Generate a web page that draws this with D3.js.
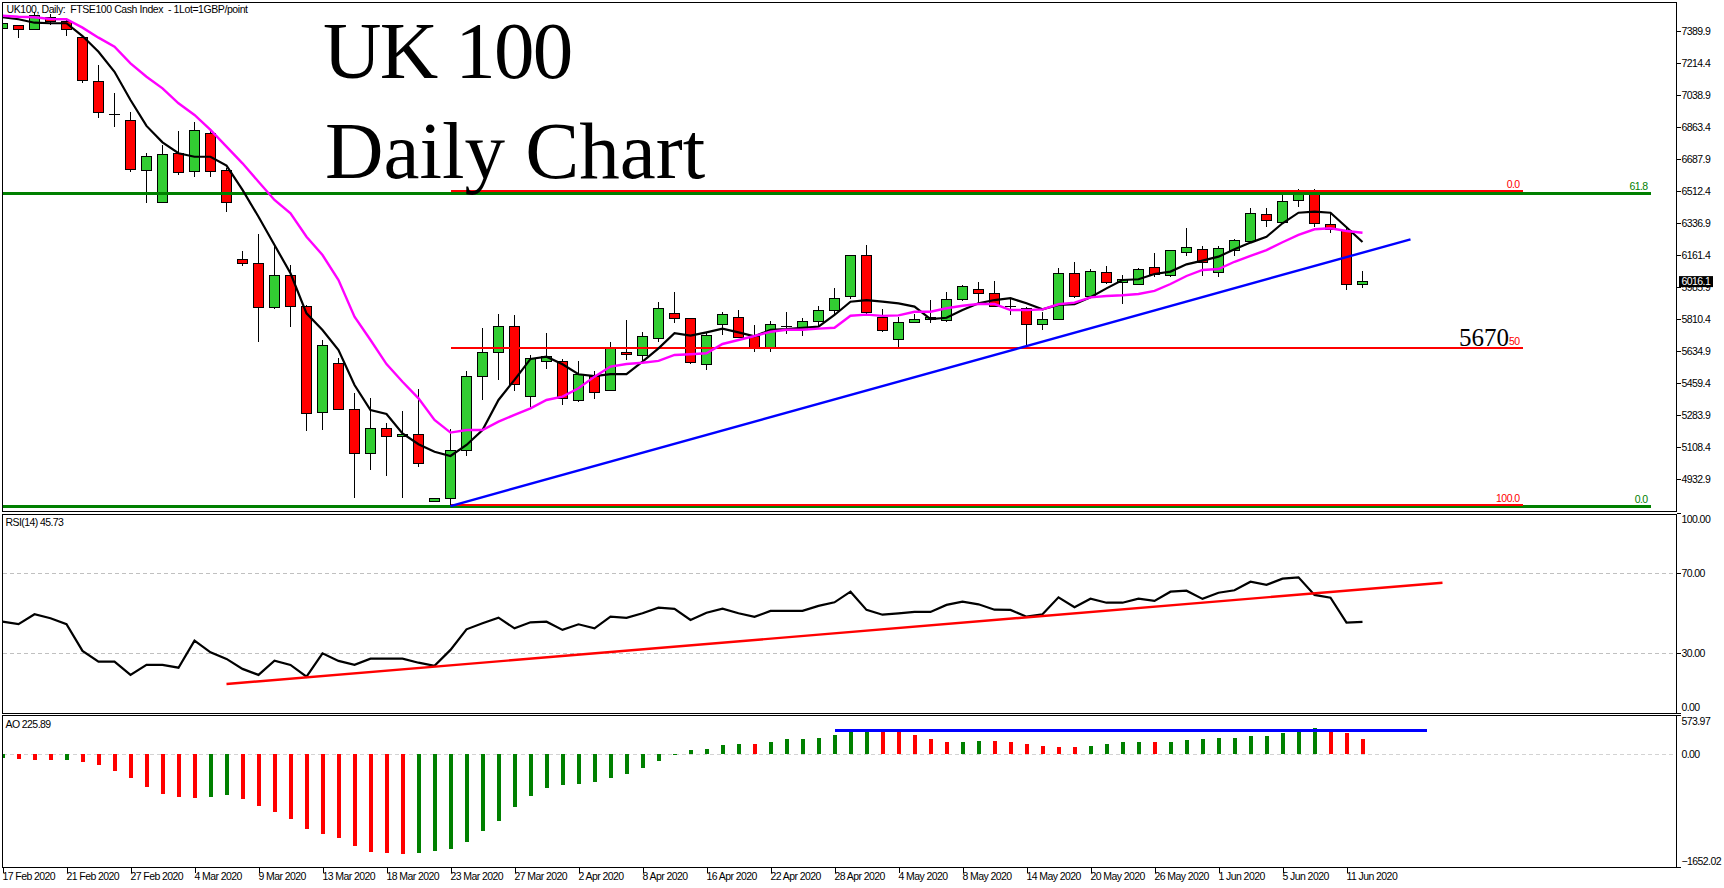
<!DOCTYPE html>
<html><head><meta charset="utf-8">
<script src="https://cdnjs.cloudflare.com/ajax/libs/d3/7.8.5/d3.min.js"></script>
<style>
html,body{margin:0;padding:0;background:#fff;overflow:hidden}
svg{display:block}
text{font-family:"Liberation Sans",Arial,sans-serif;font-size:10.5px;letter-spacing:-0.58px;fill:#000;white-space:pre}
.serif{font-family:"Liberation Serif",serif;letter-spacing:0}
.axis path{display:none}
.axis line{stroke:#000;stroke-width:1;shape-rendering:crispEdges}
</style></head><body>
<div id="chart"></div>
<script>
const open_=[7404,7419,7401,7463,7446,7357,7116,6934,6900,6628,
6452,6721,6622,6830,6628,6136,6118,5874,6052,5882,
5298,5569,5317,5076,5213,5169,5180,4810,4829,5092,
5496,5630,5772,5386,5580,5580,5366,5499,5421,5630,
5613,5706,5843,5816,5564,5783,5821,5715,5651,5771,
5756,5800,5860,5934,6161,5821,5701,5792,5807,5805,
5918,5975,5953,5881,5871,5783,5810,6063,5933,6068,
6013,6002,6096,6050,6178,6194,6068,6190,6236,6386,
6340,6461,6509,6331,6300,6002];
const close_=[7430,7401,7479,7443,7401,7119,6946,6931,6633,6704,
6715,6617,6847,6622,6452,6115,5874,6052,5880,5293,
5668,5315,5076,5213,5169,5180,5021,4829,5092,5496,
5630,5772,5454,5597,5605,5377,5510,5410,5651,5619,
5717,5871,5816,5575,5723,5838,5708,5653,5783,5769,
5800,5860,5926,6161,5847,5748,5793,5810,5818,5920,
5991,5951,5880,5879,5783,5810,6063,5934,6072,6013,
6026,6085,6057,6189,6205,6123,6200,6244,6392,6351,
6458,6503,6337,6304,6000,6016];
const high_=[7430,7419,7496,7485,7463,7359,7205,7050,6946,6722,
6766,6843,6892,6849,6640,6185,6278,6218,6108,5889,
5697,5597,5405,5377,5243,5308,5427,4829,5207,5527,
5763,5840,5834,5615,5735,5591,5582,5527,5686,5807,
5739,5904,5958,5816,5735,5849,5861,5779,5800,5849,
5816,5883,5980,6161,6218,5867,5825,5840,5916,5960,
5999,6013,6020,5926,5876,5849,6090,6123,6086,6103,
6052,6090,6172,6189,6311,6212,6212,6249,6421,6421,
6492,6525,6525,6393,6318,6075];
const low_=[7404,7353,7401,7424,7366,7108,6913,6867,6620,6447,
6447,6603,6593,6593,6401,6104,5688,5869,5770,5200,
5203,5315,4832,4984,4953,4832,5002,4810,4792,5062,
5368,5478,5419,5331,5538,5341,5359,5373,5421,5587,
5578,5688,5792,5567,5532,5726,5708,5633,5633,5731,
5719,5767,5834,5922,5838,5739,5657,5789,5790,5797,
5912,5901,5876,5834,5670,5752,5810,5927,5933,6006,
5894,5997,6044,6044,6158,6048,6042,6159,6236,6318,
6337,6428,6318,6285,5971,5984];
const maFast=[7467,7456,7437,7434,7434,7364,7278,7168,7013,6871,
6781,6721,6702,6702,6653,6520,6373,6218,6063,5843,
5752,5642,5450,5313,5291,5185,5125,5084,5061,5121,
5203,5368,5478,5593,5605,5564,5509,5499,5510,5510,
5578,5651,5734,5721,5739,5759,5739,5717,5752,5756,
5764,5770,5834,5907,5916,5907,5898,5880,5812,5819,
5861,5898,5916,5926,5898,5865,5889,5893,5931,5980,
6026,6030,6059,6072,6112,6132,6154,6194,6231,6263,
6337,6395,6401,6395,6315,6234];
const maSlow=[7475,7470,7467,7457,7456,7410,7355,7305,7214,7141,
7077,6995,6931,6849,6757,6666,6565,6465,6392,6263,
6163,6026,5825,5697,5565,5468,5377,5258,5189,5203,
5203,5249,5286,5322,5368,5386,5432,5496,5551,5565,
5572,5582,5615,5619,5624,5675,5697,5719,5742,5753,
5753,5759,5764,5830,5836,5829,5832,5852,5852,5871,
5885,5894,5894,5861,5861,5865,5893,5902,5931,5938,
5942,5949,5966,6004,6048,6081,6086,6126,6158,6190,
6233,6273,6304,6310,6295,6285];
const rsi=[45.8,44.6,49.5,47.5,44.6,31.2,25.8,25.8,19.2,24.2,
24.2,22.8,36.3,30.5,27.2,22.2,19.2,26.3,24.2,18.3,
30,26.2,24.2,27.3,27.3,27.3,25.3,23.7,31.7,42,
45,47.8,42.5,45.5,45.8,41.7,44.5,42.5,48.3,47.7,
50,52.8,52.2,46.7,50.3,52.3,50,48.2,51.2,51.2,
51.2,53.7,55.5,60.8,51.7,49.3,50,50.7,50.7,54.2,
55.8,54.5,51.8,51.7,48.3,49.5,58,53,57.3,55.3,
55.3,57.3,56.2,60.8,61.3,57.2,60.3,61.5,65.8,64.2,
67.3,68,59.2,57.8,45.3,45.73];
const ao=[-49,-68,-83,-83,-83,-112,-156,-245,-347,-479,
-582,-626,-641,-626,-597,-655,-758,-846,-949,-1095,
-1169,-1227,-1345,-1433,-1447,-1462,-1447,-1418,-1389,-1286,
-1125,-978,-773,-611,-494,-450,-435,-406,-347,-289,
-200,-98,-10,64,78,137,152,152,181,225,
225,240,284,357,357,357,357,284,225,181,
181,196,196,181,152,122,108,108,122,152,
181,181,181,181,210,225,240,240,269,269,
313,342,386,342,313,225.89];
const aoUp=[1,0,0,0,1,0,0,0,0,0,
0,0,0,1,1,0,0,0,0,0,
0,0,0,0,0,0,1,1,1,1,
1,1,1,1,1,1,1,1,1,1,
1,1,1,1,1,1,1,0,1,1,
1,1,1,1,1,0,0,0,0,0,
1,1,0,0,0,0,0,0,1,1,
1,1,0,1,1,1,1,1,1,1,
1,1,1,0,0,0];
const dateLabels=["17 Feb 2020","21 Feb 2020","27 Feb 2020","4 Mar 2020","9 Mar 2020","13 Mar 2020","18 Mar 2020","23 Mar 2020","27 Mar 2020","2 Apr 2020","8 Apr 2020","16 Apr 2020","22 Apr 2020","28 Apr 2020","4 May 2020","8 May 2020","14 May 2020","20 May 2020","26 May 2020","1 Jun 2020","5 Jun 2020","11 Jun 2020"];
const priceTicks=[7389.9,7214.4,7038.9,6863.4,6687.9,6512.4,6336.9,6161.4,5985.9,5810.4,5634.9,5459.4,5283.9,5108.4,4932.9];
const rsiTicks=[100,70,30,0];
const aoTicks=[573.97,0,-1652.02];
const lastPrice=6016.1;
// horizontal levels: value, first bar, last bar
const fibRed=[{v:6514,a:28,b:95,t:"0.0"},{v:5655,a:28,b:95,t:"50"},{v:4792,a:28,b:95,t:"100.0"}];
const fibGreen=[{v:6501,a:0,b:103,t:"61.8"},{v:4785,a:0,b:103,t:"0.0"}];
const priceTrend=[{i:28,v:4786},{i:88,v:6249}];
const rsiTrend=[{i:14,v:14.65},{i:90,v:65.3}];
const aoTrend=[{i:52,v:353},{i:89,v:353}];

const W=1724,H=888,L=2.5,R=1676.5;
const T1=2.5,B1=511.5,T2=514.5,B2=713.5,T3=715.5,B3=867.5;
const svg=d3.select("#chart").append("svg").attr("width",W).attr("height",H);
const x=d3.scaleLinear().domain([0,85]).range([2.5,1362.5]);
const yP=d3.scaleLinear().domain([7389.9,4932.9]).range([31.3,479.3]);
const yR=d3.scaleLinear().domain([0,100]).range([713.3,513.3]);
const yA=d3.scaleLinear().domain([573.97,-1652.02]).range([715.3,867]);
const idx=d3.range(open_.length);

const defs=svg.append("defs");
[["c1",T1,B1],["c2",T2,B2],["c3",T3,B3]].forEach(([id,t,b])=>{
  defs.append("clipPath").attr("id",id).append("rect").attr("x",L).attr("y",t).attr("width",R-L).attr("height",b-t);
});
const g1=svg.append("g").attr("clip-path","url(#c1)");
const g2=svg.append("g").attr("clip-path","url(#c2)");
const g3=svg.append("g").attr("clip-path","url(#c3)");

const hl=(g,rows,y,col,w)=>g.selectAll(null).data(rows).enter().append("line")
  .attr("x1",d=>x(d.a)).attr("x2",d=>x(d.b)).attr("y1",d=>y(d.v)).attr("y2",d=>y(d.v))
  .attr("stroke",col).attr("stroke-width",w).attr("shape-rendering","crispEdges");

// Candles
g1.selectAll(".wick").data(idx).enter().append("line")
  .attr("x1",i=>x(i)).attr("x2",i=>x(i)).attr("y1",i=>yP(high_[i])).attr("y2",i=>yP(low_[i]))
  .attr("stroke","#000").attr("stroke-width",1).attr("shape-rendering","crispEdges");
g1.selectAll(".body").data(idx).enter().append("rect")
  .attr("x",i=>x(i)-5).attr("width",10)
  .attr("y",i=>yP(Math.max(open_[i],close_[i])))
  .attr("height",i=>Math.abs(yP(open_[i])-yP(close_[i])))
  .attr("fill",i=>close_[i]>open_[i]?"#32cd32":"#ff0000")
  .attr("stroke","#000").attr("stroke-width",1).attr("shape-rendering","crispEdges");

// Fibonacci levels
hl(g1,[fibGreen[0],fibGreen[1]],yP,"#008000",3);
hl(g1,[fibRed[0],fibRed[2]],yP,"#ff0000",2);
hl(g1,[fibRed[1]],yP,"#ff0000",2);

// Moving averages
const lineP=d3.line().x((d,i)=>x(i)).y(d=>yP(d));
g1.append("path").attr("d",lineP(maFast)).attr("fill","none").attr("stroke","#000").attr("stroke-width",2.2);
g1.append("path").attr("d",lineP(maSlow)).attr("fill","none").attr("stroke","#ff00ff").attr("stroke-width",2.4);
// Trend line
g1.append("line").attr("x1",x(priceTrend[0].i)).attr("y1",yP(priceTrend[0].v)).attr("x2",x(priceTrend[1].i)).attr("y2",yP(priceTrend[1].v))
  .attr("stroke","#0000ff").attr("stroke-width",2.4);

// RSI pane
rsiTicks.filter(v=>v===70||v===30).forEach(v=>{
  g2.append("line").attr("x1",L).attr("x2",R-3).attr("y1",yR(v)).attr("y2",yR(v))
   .attr("stroke","#c0c0c0").attr("stroke-width",1).attr("stroke-dasharray","4 3").attr("shape-rendering","crispEdges");
});
g2.append("path").attr("d",d3.line().x((d,i)=>x(i)).y(d=>yR(d))(rsi)).attr("fill","none").attr("stroke","#000").attr("stroke-width",2.2);
g2.append("line").attr("x1",x(rsiTrend[0].i)).attr("y1",yR(rsiTrend[0].v)).attr("x2",x(rsiTrend[1].i)).attr("y2",yR(rsiTrend[1].v))
  .attr("stroke","#ff0000").attr("stroke-width",2.4);

// AO pane
g3.append("line").attr("x1",L).attr("x2",R-3).attr("y1",yA(0)).attr("y2",yA(0))
  .attr("stroke","#d3d3d3").attr("stroke-width",1).attr("stroke-dasharray","4 3").attr("shape-rendering","crispEdges");
g3.selectAll(".ao").data(idx).enter().append("rect")
  .attr("x",i=>x(i)-2).attr("width",4)
  .attr("y",i=>Math.min(yA(0),yA(ao[i]))).attr("height",i=>Math.abs(yA(ao[i])-yA(0)))
  .attr("fill",i=>aoUp[i]?"#008000":"#ff0000").attr("shape-rendering","crispEdges");
g3.append("line").attr("x1",x(aoTrend[0].i)).attr("x2",x(aoTrend[1].i)).attr("y1",yA(aoTrend[0].v)).attr("y2",yA(aoTrend[1].v))
  .attr("stroke","#0000ff").attr("stroke-width",3).attr("shape-rendering","crispEdges");

// Frames
const frame=(t,b)=>svg.append("rect").attr("x",L).attr("y",t).attr("width",R-L).attr("height",b-t)
  .attr("fill","none").attr("stroke","#000").attr("stroke-width",1).attr("shape-rendering","crispEdges");
frame(T1,B1);frame(T2,B2);frame(T3,B3);

// Axes
const ax=(scale,vals,fmt)=>{
  const g=svg.append("g").attr("class","axis").attr("transform",`translate(${R},0)`)
    .call(d3.axisRight(scale).tickValues(vals).tickSize(4).tickPadding(1).tickFormat(fmt));
  g.selectAll("text").attr("dy","0.35em");
  return g;
};
ax(yP,priceTicks,d3.format(".1f"));
const ar=ax(yR,rsiTicks,d3.format(".2f"));
ar.selectAll("text").attr("dy",d=>d===100?"0.85em":d===0?"-0.25em":"0.35em");
const aa=ax(yA,aoTicks,d3.format(".2f"));
aa.selectAll("text").attr("dy",d=>d>0?"0.85em":d<0?"-0.25em":"0.25em");
aa.selectAll("line").attr("stroke-opacity",d=>d===0?0:1);

const xa=svg.append("g").attr("class","axis").attr("transform",`translate(0,${B3})`)
  .call(d3.axisBottom(x).tickValues(d3.range(0,86,4)).tickSize(5).tickPadding(0).tickFormat((d,i)=>dateLabels[i]));
xa.selectAll("text").attr("text-anchor","start").attr("dx","-0.5").attr("y",5).attr("dy","0.71em");

// Last price marker
svg.append("rect").attr("x",R+2.5).attr("y",yP(lastPrice)-5.7).attr("width",34).attr("height",11).attr("fill","#000");
svg.append("text").attr("x",R+5).attr("y",yP(lastPrice)).attr("dy","0.35em").style("fill","#fff").text(d3.format(".1f")(lastPrice));

// Texts
svg.append("text").attr("x",6.5).attr("y",13).style("letter-spacing","-0.42px").text("UK100, Daily:  FTSE100 Cash Index  - 1Lot=1GBP/point");
svg.append("text").attr("x",5.5).attr("y",526).text("RSI(14) 45.73");
svg.append("text").attr("x",5.5).attr("y",728).text("AO 225.89");

const title=[["UK 100",78,323,-1.7],["Daily Chart",178,325,0]];
svg.selectAll(".title").data(title).enter().append("text").attr("class","serif")
  .attr("x",d=>d[2]).attr("y",d=>d[1]).style("font-size","81px").style("letter-spacing",d=>d[3]+"px").text(d=>d[0]);
svg.append("text").attr("class","serif").attr("x",1509).attr("y",345.5).attr("text-anchor","end").style("font-size","25px").text("5670");

const lab=(t,bar,value,dy,col)=>svg.append("text").attr("x",x(bar)-3).attr("y",yP(value)+dy).attr("text-anchor","end").style("fill",col).text(t);
lab(fibRed[0].t,fibRed[0].b,fibRed[0].v,-3,"#ff0000");
lab(fibRed[1].t,fibRed[1].b,fibRed[1].v,-2.5,"#ff0000");
lab(fibRed[2].t,fibRed[2].b,fibRed[2].v,-3,"#ff0000");
lab(fibGreen[0].t,fibGreen[0].b,fibGreen[0].v,-3.5,"#008000");
lab(fibGreen[1].t,fibGreen[1].b,fibGreen[1].v,-3.5,"#008000");
</script>
</body></html>
